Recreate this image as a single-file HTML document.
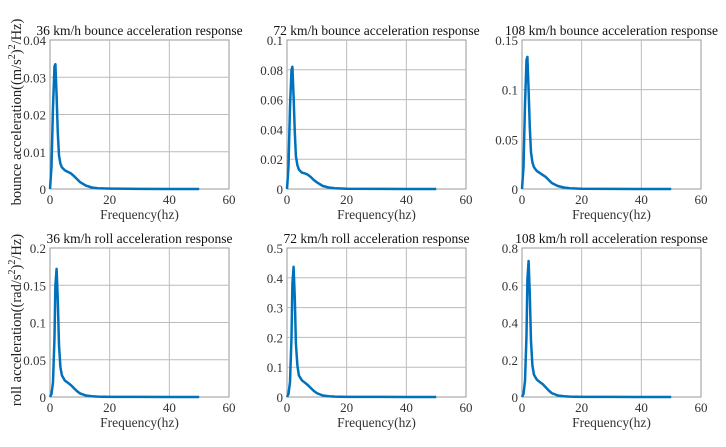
<!DOCTYPE html>
<html><head><meta charset="utf-8"><style>
html,body{margin:0;padding:0;background:#fff;}
svg{display:block;font-family:"Liberation Serif",serif;}
</style></head><body>
<svg id="chart" width="726" height="447" viewBox="0 0 726 447"></svg>
<script>
const freqs=[0,0.5,1,1.5,1.8,2.2,2.6,3,3.5,4,5,6,7,8,9,10,12,14,16,20,30,40,50];
const bounce36=[0,0.006,0.022,0.033,0.0335,0.025,0.015,0.009,0.0068,0.0058,0.005,0.0046,0.0042,0.0035,0.0027,0.0019,0.0009,0.0004,0.0002,0.0001,0.00003,0.00001,0];
const bounce72=[0,0.015,0.055,0.08,0.082,0.062,0.038,0.022,0.016,0.013,0.011,0.0105,0.0095,0.008,0.006,0.0045,0.002,0.001,0.0005,0.0002,0.0001,0,0];
const bounce108=[0,0.022,0.085,0.13,0.133,0.1,0.062,0.037,0.027,0.022,0.018,0.016,0.014,0.012,0.009,0.006,0.003,0.0015,0.0008,0.0003,0.0001,0,0];
const roll36=[0,0.004,0.02,0.08,0.15,0.172,0.13,0.07,0.04,0.029,0.022,0.019,0.016,0.012,0.008,0.005,0.002,0.001,0.0005,0.0002,0.0001,0,0];
const roll72=[0,0.01,0.05,0.2,0.38,0.437,0.33,0.18,0.105,0.072,0.056,0.048,0.04,0.03,0.02,0.013,0.005,0.0025,0.0013,0.0005,0.0002,0,0];
const roll108=[0,0.017,0.085,0.33,0.63,0.73,0.55,0.3,0.17,0.12,0.093,0.08,0.068,0.051,0.034,0.021,0.008,0.004,0.002,0.0008,0.0003,0,0];
const xTicks=[0,20,40,60];
const yTicks36b=["0","0.01","0.02","0.03","0.04"];
const yTicks72b=["0","0.02","0.04","0.06","0.08","0.1"];
const yTicks108b=["0","0.05","0.1","0.15"];
const yTicks36r=["0","0.05","0.1","0.15","0.2"];
const yTicks72r=["0","0.1","0.2","0.3","0.4","0.5"];
const yTicks108r=["0","0.2","0.4","0.6","0.8"];
const titles=["36 km/h bounce acceleration response","72 km/h bounce acceleration response","108 km/h bounce acceleration response","36 km/h roll acceleration response","72 km/h roll acceleration response","108 km/h roll acceleration response"];

const NS="http://www.w3.org/2000/svg";
const svg=document.getElementById('chart');
function mk(tag,attrs,parent){const e=document.createElementNS(NS,tag);for(const k in attrs)e.setAttribute(k,attrs[k]);(parent||svg).appendChild(e);return e;}
const series=[bounce36,bounce72,bounce108,roll36,roll72,roll108];
const yticks=[yTicks36b,yTicks72b,yTicks108b,yTicks36r,yTicks72r,yTicks108r];
const lefts=[50,287,522], tops=[40,248], W=179, H=149;
const names=['bounce-36','bounce-72','bounce-108','roll-36','roll-72','roll-108'];
for(let i=0;i<6;i++){
  const L=lefts[i%3], T=tops[Math.floor(i/3)];
  const g=mk('g',{});
  
  
  const yt=yticks[i].map(Number); const ymax=yt[yt.length-1];
  const xS=v=>L+v/60*W, yS=v=>T+H-v/ymax*H;
  mk('rect',{x:L,y:T,width:W,height:H,fill:'#fff',stroke:'#999','stroke-width':1},g);
  xTicks.forEach(t=>{
    if(t>0&&t<60) mk('line',{x1:xS(t),x2:xS(t),y1:T,y2:T+H,stroke:'#bbb','stroke-width':1},g);
    const tx=mk('text',{x:xS(t),y:T+H+15,'text-anchor':'middle','font-size':13,fill:'#333'},g);
    tx.textContent=t;
    
    
  });
  yticks[i].forEach(s=>{
    const v=Number(s);
    if(v>0&&v<ymax) mk('line',{x1:L,x2:L+W,y1:yS(v),y2:yS(v),stroke:'#bbb','stroke-width':1},g);
    const tx=mk('text',{x:L-4,y:yS(v)+5,'text-anchor':'end','font-size':13,fill:'#333'},g);
    tx.textContent=s;
    
    
  });
  const pts=freqs.map((f,k)=>xS(f).toFixed(1)+','+yS(series[i][k]).toFixed(1)).join(' ');
  const pl=mk('polyline',{points:pts,fill:'none',stroke:'#0072BD','stroke-width':2.5,'stroke-linejoin':'round'},g);
  
  
  const tt=mk('text',{x:L+W/2,y:T-5,'text-anchor':'middle','font-size':13.5,fill:'#111'},g);
  tt.textContent=titles[i];
  
  
  const xl=mk('text',{x:L+W/2,y:T+H+30,'text-anchor':'middle','font-size':13.5,fill:'#333'},g);
  xl.textContent='Frequency(hz)';
  
  
}
function ylab(cy,html,name){
  const t=mk('text',{x:0,y:0,transform:'translate(21,'+cy+') rotate(-90)','text-anchor':'middle','font-size':14.5,fill:'#222'});
  t.innerHTML=html;
  
  
}
ylab(112,'bounce acceleration((m/s<tspan dy="-6" font-size="10">2</tspan><tspan dy="6">)</tspan><tspan dy="-6" font-size="10">2</tspan><tspan dy="6">/Hz)</tspan>','y-axis-title-bounce');
ylab(320,'roll acceleration((rad/s<tspan dy="-6" font-size="10">2</tspan><tspan dy="6">)</tspan><tspan dy="-6" font-size="10">2</tspan><tspan dy="6">/Hz)</tspan>','y-axis-title-roll');
</script>
</body></html>
